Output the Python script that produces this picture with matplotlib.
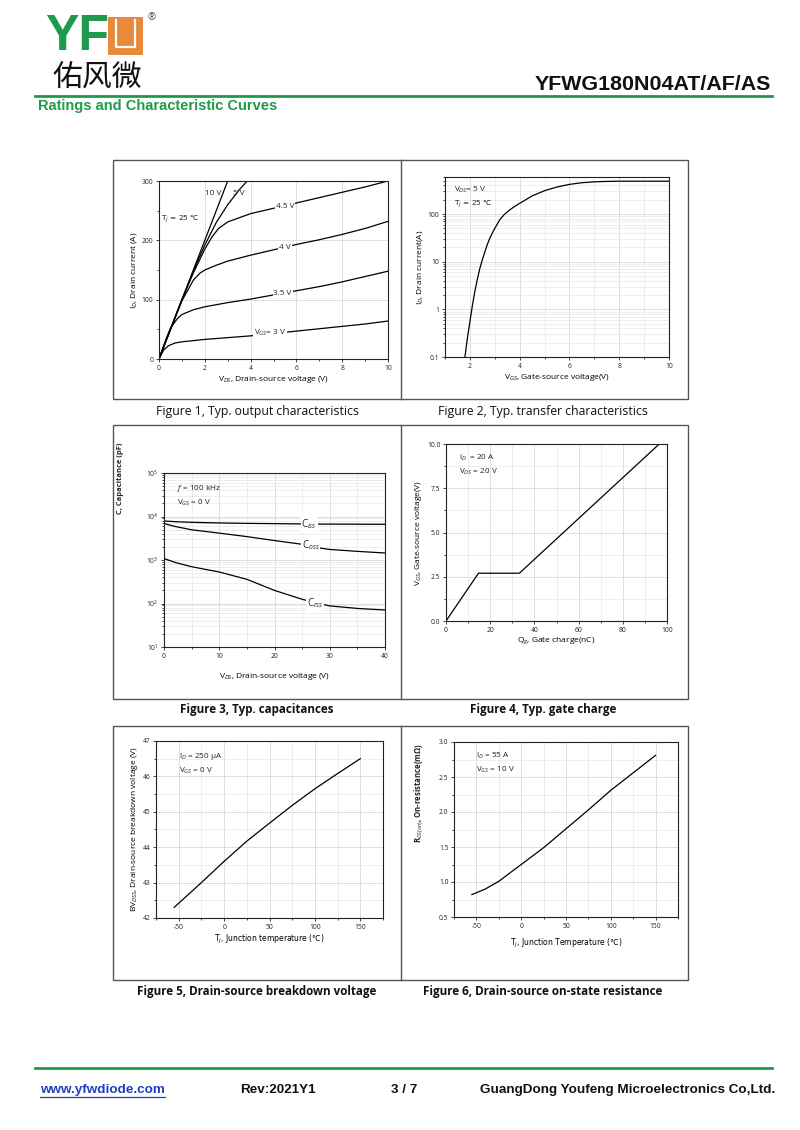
import matplotlib
matplotlib.use("Agg")
import matplotlib.pyplot as plt
from matplotlib.lines import Line2D
from matplotlib.patches import Rectangle
from matplotlib.ticker import MultipleLocator, LogLocator, NullFormatter, FixedLocator, FixedFormatter

# Figure 1, output characteristics (V_DS in V, I_D in A)
vds_10v = [0, 1.0, 2.0, 3.1]
id_10v = [0, 100, 200, 310]
vds_5v = [0, 0.5, 1.0, 1.5, 2.0, 2.5, 3.0, 3.5, 3.9]
id_5v = [0, 50, 100, 148, 192, 230, 260, 285, 302]
vds_45v = [0, 0.5, 1.0, 1.5, 2.0, 2.3, 2.6, 3.0, 4.0, 5.0, 6.0, 7.0, 8.0, 9.0, 10.0]
id_45v = [0, 50, 100, 145, 185, 205, 220, 231, 245, 254, 263, 272, 281, 290, 300]
vds_4v = [0, 0.5, 1.0, 1.5, 1.8, 2.0, 2.5, 3.0, 4.0, 5.0, 6.0, 7.0, 8.0, 9.0, 10.0]
id_4v = [0, 50, 98, 133, 145, 150, 158, 165, 175, 184, 193, 201, 210, 220, 232]
vds_35v = [0, 0.3, 0.5, 0.8, 1.0, 1.5, 2.0, 3.0, 4.0, 5.0, 6.0, 7.0, 8.0, 9.0, 10.0]
id_35v = [0, 33, 52, 68, 75, 83, 88, 95, 101, 108, 115, 122, 130, 139, 148]
vds_3v = [0, 0.2, 0.4, 0.7, 1.0, 2.0, 3.0, 4.0, 5.0, 6.0, 7.0, 8.0, 9.0, 10.0]
id_3v = [0, 15, 22, 27, 29, 33, 36, 39, 43, 47, 51, 55, 59, 64]

# Figure 2, transfer characteristics
vgs_tr = [1.8, 1.9, 2.0, 2.1, 2.2, 2.3, 2.4, 2.5, 2.6, 2.7, 2.8, 2.9, 3.0, 3.2, 3.4,
          3.6, 3.8, 4.0, 4.5, 5.0, 5.5, 6.0, 6.5, 7.0, 7.5, 8.0, 9.0, 10.0]
id_tr = [0.1, 0.25, 0.55, 1.2, 2.4, 4.3, 7.2, 11, 16, 23, 31, 40, 50, 76, 100,
         122, 145, 168, 240, 310, 370, 420, 455, 475, 485, 490, 490, 490]

# Figure 3, capacitances (pF)
vds_cap = [0, 2, 5, 10, 15, 20, 25, 28, 30, 35, 40]
c_iss = [7900, 7600, 7350, 7100, 6950, 6850, 6750, 6700, 6680, 6650, 6620]
c_oss = [6900, 5900, 4950, 4150, 3450, 2800, 2300, 1900, 1750, 1580, 1450]
c_rss = [1080, 880, 700, 530, 360, 200, 125, 100, 88, 77, 71]

# Figure 4, gate charge
qg = [0, 14.7, 33.2, 96.5]
vgs_qg = [0, 2.7, 2.7, 10.0]

# Figure 5, breakdown voltage vs temperature
tj_bv = [-55, -25, 0, 25, 50, 75, 100, 125, 150]
bv_dss = [42.3, 43.0, 43.6, 44.17, 44.68, 45.18, 45.65, 46.08, 46.5]

# Figure 6, on-resistance vs temperature
tj_rds = [-55, -40, -25, 0, 25, 50, 75, 100, 125, 150]
rds_on = [0.82, 0.9, 1.01, 1.25, 1.49, 1.76, 2.03, 2.31, 2.56, 2.81]

plt.rcParams["font.family"] = ["Open Sans", "DejaVu Sans"]
plt.rcParams["mathtext.fontset"] = "custom"
plt.rcParams["mathtext.rm"] = "Open Sans"
plt.rcParams["mathtext.it"] = "Open Sans:italic"
plt.rcParams["mathtext.bf"] = "Open Sans:bold"
plt.rcParams["axes.unicode_minus"] = False

W, H = 800, 1130
GREEN = "#1f9a4c"
ORANGE = "#e98a3a"
GRID = "#d9d9d9"
INK = "#222222"
TICK_SIZE = 4.9
LABEL_SIZE = 6.0
NOTE_SIZE = 5.9


def fx(px):
    return px / W


def fy(py):
    return 1 - py / H


def axes_at(fig, left, top, right, bottom):
    return fig.add_axes([fx(left), fy(bottom), (right - left) / W, (bottom - top) / H])


def style_axes(ax, minor_grid=False):
    for spine in ax.spines.values():
        spine.set_linewidth(0.8)
        spine.set_color(INK)
    ax.tick_params(which="both", direction="out", labelsize=TICK_SIZE, width=0.6,
                   pad=1.5, colors=INK)
    ax.tick_params(which="major", length=2.5)
    ax.tick_params(which="minor", length=1.5)
    ax.grid(which="major", color=GRID, lw=0.6)
    if minor_grid:
        ax.grid(which="minor", color="#e8e8e8", lw=0.5)
    ax.set_axisbelow(True)


def hline(fig, x0, x1, y, color, lw):
    fig.add_artist(Line2D([fx(x0), fx(x1)], [fy(y), fy(y)], color=color, lw=lw))


def label_on(ax, x, y, text, size=NOTE_SIZE):
    ax.text(x, y, text, fontsize=size, ha="center", va="center", color=INK,
            bbox=dict(fc="white", ec="none", pad=0.6), zorder=4)


def note(ax, x, y, text, celsius=False):
    # the degree-celsius sign is only in DejaVu, so those strings use it for math too
    extra = dict(math_fontfamily="dejavusans", family="DejaVu Sans",
                 fontsize=NOTE_SIZE - 0.6) if celsius else dict(fontsize=NOTE_SIZE)
    ax.text(x, y, text, transform=ax.transAxes, ha="left", va="center",
            color=INK, **extra)


fig = plt.figure(figsize=(8, 11.3), dpi=100)

# header
fig.text(fx(45), fy(37), "YF", fontsize=36, fontweight="bold", color=GREEN,
         family="Liberation Sans", va="center", ha="left")
fig.add_artist(Rectangle((fx(108), fy(55)), 35 / W, 38 / H, fc=ORANGE, ec="none"))
fig.add_artist(Line2D([fx(116), fx(116), fx(135), fx(135)],
                      [fy(20), fy(47), fy(47), fy(20)], color="white", lw=1.6))
fig.text(fx(147), fy(18), "®", fontsize=7, color="#444444", va="center")
fig.text(fx(52), fy(77), "佑风微", fontsize=21.5, color="#111111",
         family=["Noto Sans CJK SC"], fontweight="medium", va="center", ha="left")
fig.text(fx(771), fy(85), "YFWG180N04AT/AF/AS", fontsize=15.4, fontweight="bold",
         family="Liberation Sans", ha="right", va="center", color="#111111")
hline(fig, 35, 772, 95.5, GREEN, 2.0)
fig.text(fx(38), fy(106), "Ratings and Characteristic Curves", fontsize=10.5,
         fontweight="bold", family="Liberation Sans", color=GREEN,
         ha="left", va="center")

# footer
hline(fig, 35, 772, 1068, GREEN, 2.0)
footer_font = dict(fontsize=9.7, fontweight="bold", family="Liberation Sans",
                   va="center")
fig.text(fx(40), fy(1090), "www.yfwdiode.com", color="#1f3fbf", ha="left", **footer_font)
hline(fig, 40, 165, 1097, "#1f3fbf", 0.9)
fig.text(fx(240), fy(1090), "Rev:2021Y1", color="#111111", ha="left", **footer_font)
fig.text(fx(391), fy(1090), "3 / 7", color="#111111", ha="left", **footer_font)
fig.text(fx(775), fy(1090), "GuangDong Youfeng Microelectronics Co,Ltd.",
         color="#111111", ha="right", **footer_font)

# panel frames
for top, bottom in [(160, 399), (425, 699), (726, 980)]:
    fig.add_artist(Rectangle((fx(113), fy(bottom)), (688 - 113) / W, (bottom - top) / H,
                             fc="none", ec="#555555", lw=1.0))
    fig.add_artist(Line2D([fx(401), fx(401)], [fy(top), fy(bottom)],
                          color="#555555", lw=1.0))

captions = [
    (257, 411, "Figure 1, Typ. output characteristics", "normal", 8.8),
    (543, 411, "Figure 2, Typ. transfer characteristics", "normal", 8.8),
    (257, 710, "Figure 3, Typ. capacitances", "bold", 8.4),
    (543, 710, "Figure 4, Typ. gate charge", "bold", 8.4),
    (257, 991, "Figure 5, Drain-source breakdown voltage", "bold", 8.4),
    (543, 991, "Figure 6, Drain-source on-state resistance", "bold", 8.4),
]
for cx, cy, text, weight, size in captions:
    fig.text(fx(cx), fy(cy), text, fontsize=size, fontweight=weight, color="#111111",
             ha="center", va="center")

# Figure 1
ax1 = axes_at(fig, 159, 181, 388, 359)
style_axes(ax1)
for xs, ys in [(vds_10v, id_10v), (vds_5v, id_5v), (vds_45v, id_45v),
               (vds_4v, id_4v), (vds_35v, id_35v), (vds_3v, id_3v)]:
    ax1.plot(xs, ys, color="black", lw=0.9)
ax1.set_xlim(0, 10)
ax1.set_ylim(0, 300)
ax1.xaxis.set_major_locator(MultipleLocator(2))
ax1.xaxis.set_minor_locator(MultipleLocator(1))
ax1.yaxis.set_major_locator(MultipleLocator(100))
ax1.yaxis.set_minor_locator(MultipleLocator(50))
ax1.text(2.35, 279, "10 V", fontsize=NOTE_SIZE, ha="center", va="center", color=INK)
ax1.text(3.5, 279, "5 V", fontsize=NOTE_SIZE, ha="center", va="center", color=INK)
label_on(ax1, 5.5, 257, "4.5 V")
label_on(ax1, 5.5, 188, "4 V")
label_on(ax1, 5.4, 110, "3.5 V")
label_on(ax1, 4.85, 44, "V$_{GS}$= 3 V")
ax1.text(0.1, 236, "T$_j$ = 25 ℃", fontsize=NOTE_SIZE - 0.6, ha="left", va="center",
         color=INK, family="DejaVu Sans", math_fontfamily="dejavusans")
ax1.set_xlabel("V$_{DS}$, Drain-source voltage (V)", fontsize=LABEL_SIZE, labelpad=1.5)
ax1.set_ylabel("I$_D$, Drain current (A)", fontsize=LABEL_SIZE, labelpad=2)

# Figure 2
ax2 = axes_at(fig, 445, 177, 669, 357)
style_axes(ax2, minor_grid=True)
ax2.plot(vgs_tr, id_tr, color="black", lw=0.9)
ax2.set_yscale("log")
ax2.set_xlim(1, 10)
ax2.set_ylim(0.1, 600)
ax2.xaxis.set_major_locator(MultipleLocator(2))
ax2.xaxis.set_minor_locator(MultipleLocator(1))
ax2.yaxis.set_major_locator(FixedLocator([0.1, 1, 10, 100]))
ax2.yaxis.set_major_formatter(FixedFormatter(["0.1", "1", "10", "100"]))
ax2.yaxis.set_minor_locator(LogLocator(base=10, subs=range(2, 10)))
ax2.yaxis.set_minor_formatter(NullFormatter())
note(ax2, 0.04, 0.93, "V$_{DS}$= 5 V")
note(ax2, 0.04, 0.85, "T$_j$ = 25 ℃", celsius=True)
ax2.set_xlabel("V$_{GS}$, Gate-source voltage(V)", fontsize=LABEL_SIZE, labelpad=1.5)
ax2.set_ylabel("I$_D$, Drain current(A)", fontsize=LABEL_SIZE, labelpad=2)

# Figure 3
ax3 = axes_at(fig, 164, 473, 385, 647)
style_axes(ax3, minor_grid=True)
for ys in (c_iss, c_oss, c_rss):
    ax3.plot(vds_cap, ys, color="black", lw=0.9)
ax3.set_yscale("log")
ax3.set_xlim(0, 40)
ax3.set_ylim(10, 1e5)
ax3.xaxis.set_major_locator(MultipleLocator(10))
ax3.xaxis.set_minor_locator(MultipleLocator(5))
ax3.yaxis.set_minor_locator(LogLocator(base=10, subs=range(2, 10)))
ax3.yaxis.set_minor_formatter(NullFormatter())
label_on(ax3, 26.3, 6750, "C$_{iss}$", size=7)
label_on(ax3, 26.5, 2200, "C$_{oss}$", size=7)
label_on(ax3, 27.3, 100, "C$_{rss}$", size=7)
note(ax3, 0.06, 0.91, "$f$ = 100 kHz")
note(ax3, 0.06, 0.83, "V$_{GS}$ = 0 V")
ax3.set_xlabel("V$_{DS}$, Drain-source voltage (V)", fontsize=LABEL_SIZE, labelpad=8)
fig.text(fx(120), fy(478), "C, Capacitance (pF)", rotation=90, fontsize=5.4,
         fontweight="bold", ha="center", va="center", color=INK)

# Figure 4
ax4 = axes_at(fig, 446, 444, 667, 621)
style_axes(ax4, minor_grid=True)
ax4.plot(qg, vgs_qg, color="black", lw=0.9)
ax4.set_xlim(0, 100)
ax4.set_ylim(0, 10)
ax4.xaxis.set_major_locator(MultipleLocator(20))
ax4.xaxis.set_minor_locator(MultipleLocator(10))
ax4.yaxis.set_major_locator(MultipleLocator(2.5))
ax4.yaxis.set_minor_locator(MultipleLocator(1.25))
ax4.yaxis.set_major_formatter(plt.FormatStrFormatter("%.1f"))
note(ax4, 0.06, 0.92, "I$_D$  = 20 A")
note(ax4, 0.06, 0.84, "V$_{DS}$ = 20 V")
ax4.set_xlabel("Q$_g$, Gate charge(nC)", fontsize=LABEL_SIZE, labelpad=1.5)
ax4.set_ylabel("V$_{GS}$, Gate-source voltage(V)", fontsize=LABEL_SIZE, labelpad=2)

# Figure 5
ax5 = axes_at(fig, 156, 741, 383, 918)
style_axes(ax5, minor_grid=True)
ax5.plot(tj_bv, bv_dss, color="black", lw=0.9)
ax5.set_xlim(-75, 175)
ax5.set_ylim(42, 47)
ax5.xaxis.set_major_locator(MultipleLocator(50))
ax5.xaxis.set_minor_locator(MultipleLocator(25))
ax5.yaxis.set_major_locator(MultipleLocator(1))
ax5.yaxis.set_minor_locator(MultipleLocator(0.5))
note(ax5, 0.1, 0.91, "I$_D$ = 250 μA")
note(ax5, 0.1, 0.83, "V$_{GS}$ = 0 V")
ax5.set_xlabel("T$_j$, Junction temperature (℃)", fontsize=LABEL_SIZE - 0.5, labelpad=1.5,
               family="DejaVu Sans", math_fontfamily="dejavusans")
ax5.set_ylabel("BV$_{DSS}$, Drain-source breakdown voltage (V)", fontsize=LABEL_SIZE,
               labelpad=2)

# Figure 6
ax6 = axes_at(fig, 454, 742, 678, 917)
style_axes(ax6, minor_grid=True)
ax6.plot(tj_rds, rds_on, color="black", lw=0.9)
ax6.set_xlim(-75, 175)
ax6.set_ylim(0.5, 3.0)
ax6.xaxis.set_major_locator(MultipleLocator(50))
ax6.xaxis.set_minor_locator(MultipleLocator(25))
ax6.yaxis.set_major_locator(MultipleLocator(0.5))
ax6.yaxis.set_minor_locator(MultipleLocator(0.25))
ax6.yaxis.set_major_formatter(plt.FormatStrFormatter("%.1f"))
note(ax6, 0.1, 0.92, "I$_D$ = 55 A")
note(ax6, 0.1, 0.84, "V$_{GS}$ = 10 V")
ax6.set_xlabel("T$_j$, Junction Temperature (℃)", fontsize=LABEL_SIZE - 0.5, labelpad=5,
               family="DejaVu Sans", math_fontfamily="dejavusans")
fig.text(fx(419), fy(793), "R$_{DS(on)}$, On-resistance(mΩ)", rotation=90, fontsize=5.6,
         fontweight="bold", ha="center", va="center", color=INK)

fig.savefig("out.png", dpi=100)
